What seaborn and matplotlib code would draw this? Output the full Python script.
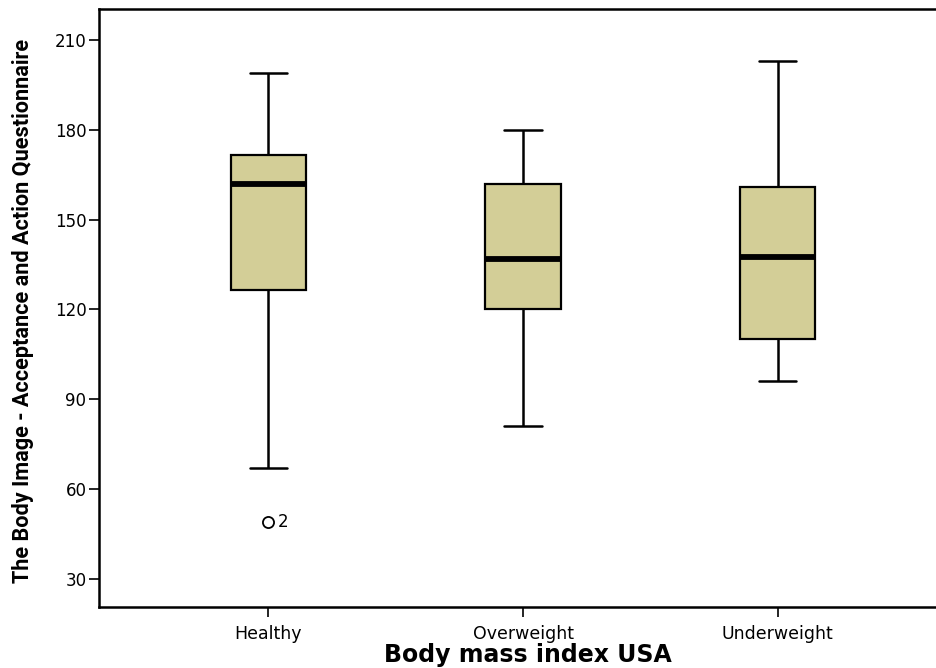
import matplotlib
matplotlib.use("Agg")
import matplotlib.pyplot as plt
import numpy as np
import pandas as pd
import seaborn as sns

# Five-number summaries per BMI group (whisker ends, quartiles, median)
categories = ["Healthy", "Overweight", "Underweight"]
whisker_low = [67, 81, 96]
q1 = [126.5, 120, 110]
median = [162, 137, 137.5]
q3 = [171.5, 162, 161]
whisker_high = [199, 180, 203]

# Outlying case (group, value, case number)
outlier_group = ["Healthy"]
outlier_value = [49]
outlier_case = ["2"]

y_ticks = [30, 60, 90, 120, 150, 180, 210]

# Long table whose quartiles reproduce the summaries above
rows = []
for cat, lo, a, m, b, hi in zip(categories, whisker_low, q1, median, q3, whisker_high):
    for v in (lo, a, a, m, b, b, hi):
        rows.append({"group": cat, "score": v})
df = pd.DataFrame(rows)

sns.set_theme(style="ticks")
plt.rcParams["font.family"] = ["DejaVu Sans"]

fig = plt.figure(figsize=(9.36, 6.68), dpi=100)
ax = fig.add_axes([99 / 936, 61 / 668, 848 / 936, 598 / 668])

box_color = "#D3CE97"
sns.boxplot(
    data=df, x="group", y="score", order=categories, ax=ax,
    color=box_color, saturation=1, width=0.295, whis=(0, 100), showfliers=False,
    linecolor="black", linewidth=1.6,
    medianprops=dict(color="black", linewidth=4.2, solid_capstyle="butt"),
    whiskerprops=dict(color="black", linewidth=1.8),
    capprops=dict(color="black", linewidth=1.8),
    boxprops=dict(edgecolor="black", linewidth=1.6),
)

# Outlying case drawn as an open circle with its case number
for g, v, c in zip(outlier_group, outlier_value, outlier_case):
    xi = categories.index(g)
    ax.plot(xi, v, marker="o", markersize=8, markerfacecolor="none",
            markeredgecolor="black", markeredgewidth=1.3, linestyle="none")
    ax.annotate(c, (xi, v), xytext=(7, 0), textcoords="offset points",
                ha="left", va="center", fontsize=12, color="black")

ax.set_xlim(-0.666, 2.666)
ax.set_ylim(20.65, 220.35)
ax.set_yticks(y_ticks)
ax.set_yticklabels([str(t) for t in y_ticks])

for side in ("left", "bottom", "top"):
    ax.spines[side].set_linewidth(1.8)
    ax.spines[side].set_color("black")
ax.spines["right"].set_visible(False)

ax.tick_params(axis="y", length=7, width=1.2, pad=2, labelsize=12, colors="black")
ax.tick_params(axis="x", length=7, width=1.2, pad=6, labelsize=12.5, colors="black")

ax.set_xlabel("Body mass index USA", fontsize=17, fontweight="bold", color="black")
ax.xaxis.set_label_coords(0.506, -0.060)
ax.set_ylabel("The Body Image - Acceptance and Action Questionnaire",
              fontsize=15.6, fontweight="bold", family=["Roboto", "DejaVu Sans"],
              color="black")
ax.yaxis.set_label_coords(-0.077, 0.495)

fig.savefig("out.png", dpi=100, facecolor="white")
